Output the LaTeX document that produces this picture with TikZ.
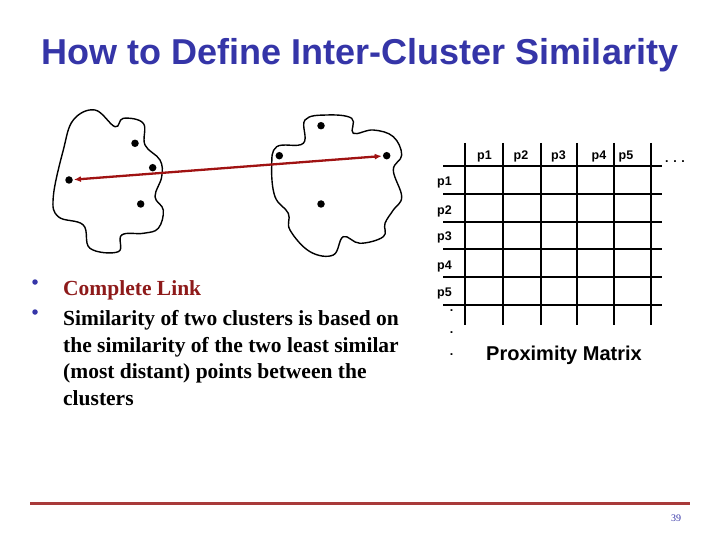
\documentclass[tikz,border=0pt]{standalone}
\usepackage{fontspec}
\setmainfont{Liberation Serif}
\newfontfamily\arialfont{Liberation Sans}
\usetikzlibrary{arrows.meta}
\definecolor{titleblue}{HTML}{3535A8}
\definecolor{darkred}{HTML}{8E1A1A}
\definecolor{arrowred}{HTML}{A01212}
\definecolor{linered}{HTML}{A83A3A}
\tikzset{
  pt/.style={circle,fill=black,inner sep=0pt,minimum size=7.5pt},
  cloud/.style={line width=1.4pt,black},
  gridline/.style={line width=2pt,black},
  lbl/.style={font=\arialfont\fontsize{12.5}{13}\selectfont\bfseries,inner sep=0pt},
  body/.style={font=\fontsize{21.5}{26.7}\selectfont\bfseries,inner sep=0pt,anchor=base west,align=left},
  bul/.style={circle,fill=titleblue,inner sep=0pt,minimum size=5.5pt}
}
\begin{document}
\begin{tikzpicture}[x=1pt,y=-1pt]
\useasboundingbox[fill=white] (0,0) rectangle (720,540);
% title
\node[font=\arialfont\fontsize{36}{38}\selectfont\bfseries,text=titleblue,inner sep=0pt] (title) at (360,55) {How to Define Inter-Cluster Similarity};
% clouds
\draw[cloud] plot[smooth cycle,tension=0.65] coordinates {(73.3,120) (95,110) (115,126.7) (123.3,118.3) (143.3,123.3) (145,145) (160,160) (161.7,176.7) (155,196.7) (163.3,210) (158.3,228.3) (143.3,233.3) (121.7,235) (118.3,251.7) (90,248.3) (83.3,225) (58.3,216.7) (53.3,196.7) (63.3,150)};
\draw[cloud] plot[smooth cycle,tension=0.65] coordinates {(303.3,143.3) (305,120) (326.7,115) (351.7,118.3) (353.3,133.3) (373.3,130) (393.3,136.7) (401.7,155) (393.3,170) (401.7,196.7) (393.3,210) (385,223.3) (383.3,236.7) (360,243.3) (343.3,236.7) (333.3,255) (310,251.7) (290,230) (288.3,213.3) (275,196.7) (271.7,166.7) (276.7,146.7)};
% points
\node[pt] (a1) at (135,143.3) {};
\node[pt] (a2) at (152.7,167.7) {};
\node[pt] (a3) at (69,180) {};
\node[pt] (a4) at (140.7,204) {};
\node[pt] (b1) at (321,125.7) {};
\node[pt] (b2) at (279.3,155.7) {};
\node[pt] (b3) at (386.7,155.7) {};
\node[pt] (b4) at (321,204) {};
\draw[arrowred,line width=2.3pt,{Latex[length=7pt,width=6pt]}-{Latex[length=7pt,width=6pt]},shorten <=1pt,shorten >=1pt] (a3) -- (b3);
% grid
\foreach \x/\n in {465/c0,503/c1,541/c2,577/c3,614/c4,651/c5}{
  \coordinate (\n t) at (\x,143);
  \coordinate (\n b) at (\x,325);
  \draw[gridline] (\n t) -- (\n b);
}
\foreach \y/\n in {166/r0,194/r1,222/r2,249/r3,277/r4,305/r5}{
  \coordinate (\n l) at (443,\y);
  \coordinate (\n r) at (662,\y);
  \draw[gridline] (\n l) -- (\n r);
}
\node[lbl] (h1) at (484.5,156) {p1};
\node[lbl] (h2) at (521,156) {p2};
\node[lbl] (h3) at (558.5,156) {p3};
\node[lbl] (h4) at (599,156) {p4};
\node[lbl] (h5) at (626,156) {p5};
\node[lbl] (hd) at (675,162) {. . .};
\node[lbl,anchor=west] (v1) at (437,182.5) {p1};
\node[lbl,anchor=west] (v2) at (437,211) {p2};
\node[lbl,anchor=west] (v3) at (437,237.5) {p3};
\node[lbl,anchor=west] (v4) at (437,266) {p4};
\node[lbl,anchor=west] (v5) at (437,293.5) {p5};
\node[lbl] (d1) at (451.7,311) {.};
\node[lbl] (d2) at (451.7,333) {.};
\node[lbl] (d3) at (451.7,354.5) {.};
\node[font=\arialfont\fontsize{20}{21}\selectfont\bfseries,inner sep=0pt,anchor=west] (pm) at (486,355) {Proximity Matrix};
% bullets
\node[bul] (bu1) at (35,282) {};
\node[body,text=darkred] (t1) at (63,295) {Complete Link};
\node[bul] (bu2) at (35,312) {};
\node[body,anchor=north west] (t2) at (63,310) {Similarity of two clusters is based on\\the similarity of the two least similar\\(most distant) points between the\\clusters};
% footer
\coordinate (fl) at (30,503.5);
\coordinate (fr) at (690,503.5);
\draw[linered,line width=2.5pt] (fl) -- (fr);
\node[font=\fontsize{10}{10}\selectfont,text=titleblue,inner sep=0pt] (pg) at (676,518) {39};
\end{tikzpicture}
\end{document}
